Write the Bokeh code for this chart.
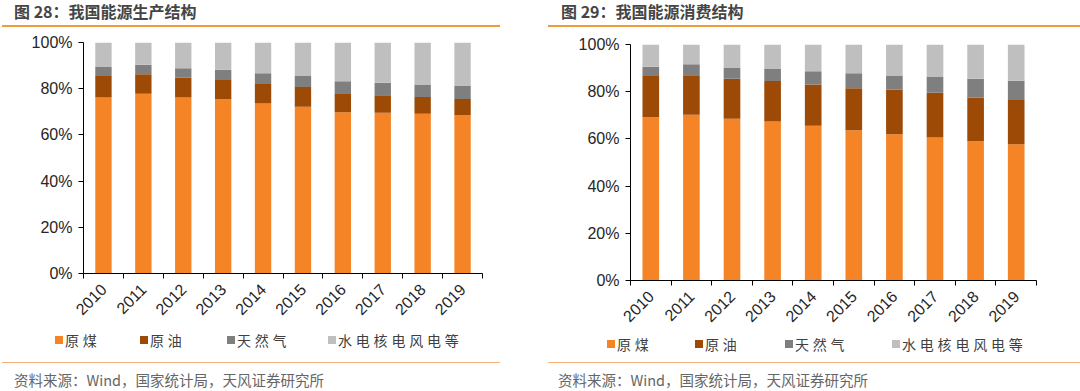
import math
from bokeh.plotting import figure
from bokeh.models import ColumnDataSource, Range1d, FixedTicker, Div
from bokeh.layouts import row, column
from bokeh.embed import file_html
from bokeh.resources import INLINE

# ---------------- data ----------------
years = ["2010", "2011", "2012", "2013", "2014", "2015", "2016", "2017", "2018", "2019"]
series_names = ["原煤", "原油", "天然气", "水电核电风电等"]
series_colors = ["#F58426", "#9C4A06", "#7F7F7F", "#BFBFBF"]
y_ticks = [0, 20, 40, 60, 80, 100]
y_tick_labels = ["0%", "20%", "40%", "60%", "80%", "100%"]

# 图28 我国能源生产结构 (%)
prod_coal = [76.2, 77.8, 76.2, 75.4, 73.6, 72.2, 69.8, 69.6, 69.2, 68.6]
prod_oil = [9.3, 8.5, 8.5, 8.4, 8.4, 8.5, 8.2, 7.6, 7.2, 6.9]
prod_gas = [4.1, 4.1, 4.1, 4.4, 4.7, 4.8, 5.2, 5.4, 5.4, 5.7]
prod_other = [10.4, 9.6, 11.2, 11.8, 13.3, 14.5, 16.8, 17.4, 18.2, 18.8]

# 图29 我国能源消费结构 (%)
cons_coal = [69.2, 70.2, 68.5, 67.4, 65.6, 63.7, 62.0, 60.6, 59.0, 57.7]
cons_oil = [17.4, 16.8, 17.0, 17.1, 17.4, 17.8, 18.8, 19.0, 18.4, 18.8]
cons_gas = [4.0, 4.6, 4.8, 5.3, 5.7, 6.3, 6.1, 6.6, 8.1, 8.1]
cons_other = [9.4, 8.4, 9.7, 10.2, 11.3, 12.2, 13.1, 13.8, 14.5, 15.4]

TITLE_LINE = "#F29B3A"
FOOT_LINE = "#F5B27C"
TICK_FONT = "Liberation Sans"
CJK_FONT = "Noto Sans CJK SC"
PANEL_W = 540
FIG_H = 303


def make_chart(coal, oil, gas, other, border_left, border_right, border_top, frame_h):
    idx = list(range(1, len(years) + 1))
    src = ColumnDataSource(dict(x=idx, coal=coal, oil=oil, gas=gas, other=other))
    p = figure(width=PANEL_W, height=FIG_H, output_backend="svg", toolbar_location=None,
               x_range=Range1d(0.5, len(years) + 0.5), y_range=Range1d(0, 100),
               tools="", margin=0)
    p.min_border_left = border_left
    p.min_border_right = border_right
    p.min_border_top = border_top
    p.min_border_bottom = FIG_H - border_top - frame_h
    p.outline_line_color = None
    p.background_fill_color = "white"
    p.border_fill_color = "white"
    p.xgrid.visible = False
    p.ygrid.visible = False

    p.vbar_stack(["coal", "oil", "gas", "other"], x="x", width=0.41,
                 color=series_colors, line_color=None, source=src)

    # x axis: labels at category centres, tick marks at category boundaries
    xa = p.xaxis[0]
    xa.ticker = FixedTicker(ticks=idx, minor_ticks=[i + 0.5 for i in range(0, len(years) + 1)])
    xa.major_label_overrides = {i: y for i, y in zip(idx, years)}
    xa.major_tick_out = 0
    xa.major_tick_in = 0
    xa.minor_tick_out = 5
    xa.minor_tick_in = 0
    xa.minor_tick_line_color = "black"
    xa.axis_line_color = "black"
    xa.major_label_orientation = math.pi / 4
    xa.major_label_standoff = 8
    xa.major_label_text_font = TICK_FONT
    xa.major_label_text_font_size = "16px"
    xa.major_label_text_color = "#262626"

    ya = p.yaxis[0]
    ya.ticker = FixedTicker(ticks=y_ticks, minor_ticks=[])
    ya.major_label_overrides = {t: l for t, l in zip(y_ticks, y_tick_labels)}
    ya.major_tick_out = 5
    ya.major_tick_in = 0
    ya.minor_tick_out = 0
    ya.minor_tick_in = 0
    ya.axis_line_color = "black"
    ya.major_tick_line_color = "black"
    ya.major_label_standoff = 6
    ya.major_label_text_font = TICK_FONT
    ya.major_label_text_font_size = "16px"
    ya.major_label_text_color = "#262626"
    return p


def legend_div(square_lefts, center_y, height):
    parts = []
    for name, color, x in zip(series_names, series_colors, square_lefts):
        parts.append(
            f'<div style="position:absolute;left:{x}px;top:{center_y - 4}px;width:8px;height:8px;'
            f'background:{color};"></div>'
            f'<div style="position:absolute;left:{x + 10}px;top:{center_y - 10}px;height:20px;'
            f"line-height:20px;font-family:'{CJK_FONT}';font-size:14px;letter-spacing:3.8px;"
            f'color:#404040;white-space:nowrap;">{name}</div>')
    html = f'<div style="position:relative;width:{PANEL_W}px;height:{height}px;">' + "".join(parts) + "</div>"
    return Div(text=html, width=PANEL_W, height=height, margin=0)


def title_div(text, offset_left, pad_left, line_w):
    html = (f'<div style="box-sizing:border-box;margin-left:{offset_left}px;width:{line_w}px;height:27px;'
            f'border-bottom:2px solid {TITLE_LINE};padding-top:3px;padding-left:{pad_left}px;'
            f"font-family:'{CJK_FONT}';font-weight:bold;font-size:16px;line-height:17px;"
            f'color:#454545;white-space:nowrap;">{text}</div>')
    return Div(text=html, width=PANEL_W, height=27, margin=0)


def foot_div(text, offset_left, pad_left, line_w):
    html = (f'<div style="box-sizing:border-box;margin-left:{offset_left}px;margin-top:7px;width:{line_w}px;'
            f'border-top:1.5px solid {FOOT_LINE};padding-top:9px;padding-left:{pad_left}px;'
            f"font-family:'{CJK_FONT}';font-size:14.5px;line-height:15px;color:#666666;"
            f'white-space:nowrap;">{text}</div>')
    return Div(text=html, width=PANEL_W, height=36, margin=0)


source_text = "资料来源：Wind，国家统计局，天风证券研究所"

p1 = make_chart(prod_coal, prod_oil, prod_gas, prod_other,
                border_left=83, border_right=58, border_top=15, frame_h=231)
p2 = make_chart(cons_coal, cons_oil, cons_gas, cons_other,
                border_left=90, border_right=44, border_top=17, frame_h=237)

left = column(title_div("图 28：我国能源生产结构", 2, 12, 498), p1,
              legend_div([55, 140, 227, 328], 10, 25),
              foot_div(source_text, 2, 12, 498), spacing=0, margin=0)
right = column(title_div("图 29：我国能源消费结构", 8, 13, 532), p2,
               legend_div([67, 155, 245, 352], 14, 25),
               foot_div(source_text, 8, 10, 532), spacing=0, margin=0)
layout = row(left, right, spacing=0, margin=0)

open("out.html", "w").write(file_html(layout, INLINE))
